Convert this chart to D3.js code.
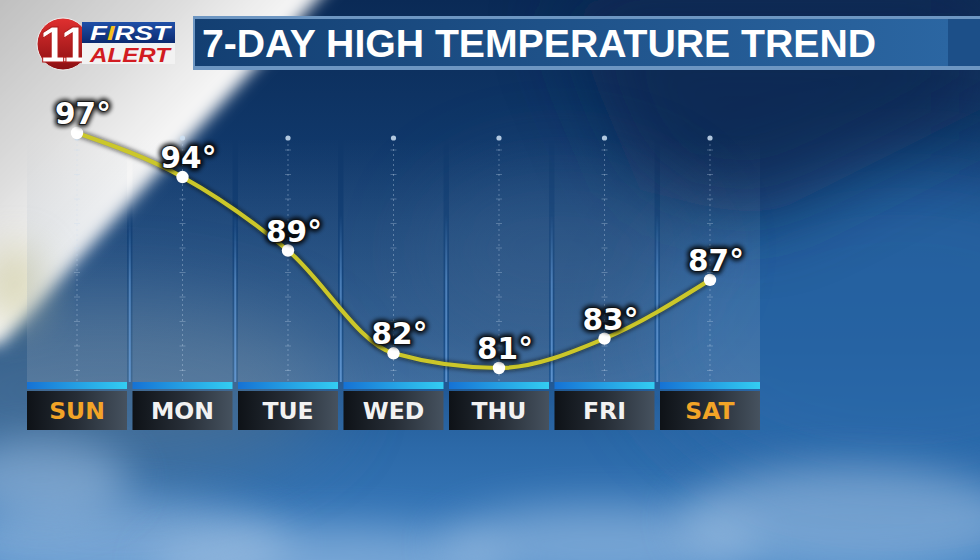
<!DOCTYPE html>
<html><head><meta charset="utf-8">
<script src="https://cdn.jsdelivr.net/npm/d3@7"></script>
<style>html,body{margin:0;padding:0;background:#0d3566;overflow:hidden}svg{display:block}</style>
</head><body>
<svg id="c" width="980" height="560"></svg>
<script>
const days = ["SUN","MON","TUE","WED","THU","FRI","SAT"];
const highs = [97,94,89,82,81,83,87];
const weekendDays = ["SUN","SAT"];
const titleText = "7-DAY HIGH TEMPERATURE TREND";
const logoNumber = "11";
const logoTop = "FIRST";
const logoBottom = "ALERT";

const W = 980, H = 560;
const svg = d3.select("#c");
const defs = svg.append("defs");

function lin(id, stops, x1, y1, x2, y2){
  const g = defs.append("linearGradient").attr("id", id)
    .attr("x1", x1).attr("y1", y1).attr("x2", x2).attr("y2", y2);
  stops.forEach(s => g.append("stop").attr("offset", s[0]).attr("stop-color", s[1]).attr("stop-opacity", s[2] == null ? 1 : s[2]));
}
function blur(id, sd){
  defs.append("filter").attr("id", id).attr("x", "-50%").attr("y", "-50%").attr("width", "200%").attr("height", "200%")
    .append("feGaussianBlur").attr("stdDeviation", sd);
}
lin("bg", [[0,"#0a2a56"],[0.3,"#113a6d"],[0.6,"#1a4d86"],[0.8,"#2c69a8"],[1,"#3c7fc2"]], "0","0","0","1");
lin("swoosh", [[0,"#b9b9b9"],[0.55,"#dcdcdc"],[0.85,"#f4f4f4"],[1,"#ffffff"]], "0","0","0.55","0.55");
lin("panel", [[0,"#8ea2b8",0.0],[0.35,"#8ea2b8",0.12],[1,"#8ea2b8",0.28]], "0","0","0","1");
lin("bar", [[0,"#1672d4"],[1,"#33cdf2"]], "0","0","1","0");
lin("lbl", [[0,"#0e1217"],[0.5,"#262d36"],[1,"#46525f"]], "0","0","1","0");
lin("titleIn", [[0,"#133f72"],[1,"#2b66a2"]], "0","0","1","0");
lin("divider", [[0,"#6aa0dc",0],[0.4,"#6aa0dc",0.6],[1,"#6aa0dc",0.8]], "0","0","0","1");
lin("logoRed", [[0,"#e03030"],[1,"#8a0f12"]], "0","0","0","1");
lin("logoBlue", [[0,"#2050a8"],[1,"#0c2a70"]], "0","0","0","1");
blur("b40", 40); blur("b20", 20); blur("b8", 8); blur("b3", 2.2);

// ---------- background ----------
const bg = svg.append("g");
bg.append("rect").attr("width", W).attr("height", H).attr("fill", "url(#bg)");
bg.append("ellipse").attr("cx", 900).attr("cy", 330).attr("rx", 260).attr("ry", 170).attr("fill", "#2a6aac").attr("opacity", 0.75).attr("filter", "url(#b40)");
bg.append("polygon").attr("points", "560,0 980,0 980,110 760,220 640,190").attr("fill", "#082650").attr("opacity", 0.7).attr("filter", "url(#b40)");
bg.append("ellipse").attr("cx", 560).attr("cy", 250).attr("rx", 140).attr("ry", 90).attr("fill", "#2b5788").attr("opacity", 0.45).attr("filter", "url(#b40)");
bg.append("ellipse").attr("cx", 110).attr("cy", 390).attr("rx", 220).attr("ry", 90).attr("fill", "#557592").attr("opacity", 0.6).attr("filter", "url(#b40)");
[[120,545,170,45],[330,565,180,40],[600,545,160,40],[850,520,170,55],[40,480,90,40]].forEach(c => {
  bg.append("ellipse").attr("cx", c[0]).attr("cy", c[1]).attr("rx", c[2]).attr("ry", c[3])
    .attr("fill", "#a6c4e4").attr("opacity", 0.55).attr("filter", "url(#b20)");
});
bg.append("polygon").attr("points", "-20,-20 335,-20 0,345 -20,345").attr("fill", "url(#swoosh)").attr("filter", "url(#b8)");
bg.append("ellipse").attr("cx", 15).attr("cy", 285).attr("rx", 30).attr("ry", 40).attr("fill", "#c8c490").attr("opacity", 0.6).attr("filter", "url(#b20)");

// ---------- scales ----------
const x = d3.scaleBand().domain(days).range([27, 760]).paddingInner(0.052).paddingOuter(0);
const y = d3.scaleLinear().domain([81, 97]).range([368, 133]);
const cx = d => x(d) + x.bandwidth() / 2;

const panelTop = 138, panelBottom = 382;

// panels
const cols = svg.append("g");
cols.selectAll("rect.panel").data(days).join("rect").attr("class", "panel")
  .attr("x", d => x(d)).attr("y", panelTop).attr("width", x.bandwidth()).attr("height", panelBottom - panelTop)
  .attr("fill", "url(#panel)");
// dividers
cols.selectAll("rect.div").data(days.slice(1)).join("rect").attr("class", "div")
  .attr("x", d => x(d) - x.step() * x.paddingInner() / 2 - 1).attr("y", 215).attr("width", 2).attr("height", panelBottom - 215)
  .attr("fill", "url(#divider)");
// center dashed lines
cols.selectAll("line.cl").data(days).join("line").attr("class", "cl")
  .attr("x1", cx).attr("x2", cx).attr("y1", panelTop + 6).attr("y2", panelBottom)
  .attr("stroke", "#c8dcf0").attr("stroke-opacity", 0.35).attr("stroke-width", 1).attr("stroke-dasharray", "2,3");
cols.selectAll("circle.top").data(days).join("circle").attr("class", "top")
  .attr("cx", cx).attr("cy", panelTop).attr("r", 2.6).attr("fill", "#cfe2f5").attr("opacity", 0.85);
const tickYs = d3.range(panelTop + 12, panelBottom - 5, 24.5);
days.forEach(d => {
  cols.selectAll(null).data(tickYs).join("line")
    .attr("x1", cx(d) - 3).attr("x2", cx(d) + 3).attr("y1", t => t).attr("y2", t => t)
    .attr("stroke", "#c8dcf0").attr("stroke-opacity", 0.3).attr("stroke-width", 1);
});

// blue bars
svg.append("g").selectAll("rect").data(days).join("rect")
  .attr("x", d => x(d)).attr("y", 382).attr("width", x.bandwidth()).attr("height", 7)
  .attr("fill", "url(#bar)");
// label boxes
svg.append("g").selectAll("rect").data(days).join("rect")
  .attr("x", d => x(d)).attr("y", 391).attr("width", x.bandwidth()).attr("height", 39)
  .attr("fill", "url(#lbl)");
svg.append("g").selectAll("text").data(days).join("text")
  .attr("x", cx).attr("y", 419).attr("text-anchor", "middle")
  .attr("font-family", "'DejaVu Sans', sans-serif").attr("font-weight", "bold").attr("font-size", 23.5)
  .attr("fill", d => weekendDays.includes(d) ? "#f2a427" : "#f2f2f2")
  .text(d => d);

// ---------- line ----------
const pts = days.map((d, i) => [cx(d), y(highs[i])]);
const line = d3.line().curve(d3.curveMonotoneX);
svg.append("path").attr("d", line(pts)).attr("fill", "none").attr("stroke", "#1a1a08").attr("stroke-opacity", 0.55)
  .attr("stroke-width", 7).attr("filter", "url(#b3)");
svg.append("path").attr("d", line(pts)).attr("fill", "none").attr("stroke", "#cbc72a").attr("stroke-width", 4.2)
  .attr("stroke-linecap", "round");
svg.append("g").selectAll("circle").data(pts).join("circle")
  .attr("cx", p => p[0]).attr("cy", p => p[1]).attr("r", 6.2).attr("fill", "#ffffff");

// temperature labels
const lab = svg.append("g").attr("font-family", "'DejaVu Sans', sans-serif").attr("font-weight", "bold").attr("font-size", 29.5).attr("text-anchor", "middle");
lab.selectAll("text.sh").data(days).join("text").attr("class", "sh")
  .attr("x", d => cx(d) + 6).attr("y", (d, i) => y(highs[i]) - 9)
  .attr("fill", "#000").attr("stroke", "#000").attr("stroke-width", 6).attr("stroke-linejoin", "round")
  .attr("opacity", 0.85).attr("filter", "url(#b3)")
  .text((d, i) => highs[i] + "°");
lab.selectAll("text.fg").data(days).join("text").attr("class", "fg")
  .attr("x", d => cx(d) + 6).attr("y", (d, i) => y(highs[i]) - 9)
  .attr("fill", "#ffffff").attr("stroke", "#111").attr("stroke-width", 1.5).attr("paint-order", "stroke")
  .text((d, i) => highs[i] + "°");

// ---------- title ----------
const tg = svg.append("g");
tg.append("rect").attr("x", 193).attr("y", 16).attr("width", 787).attr("height", 54).attr("fill", "#6d96c2");
tg.append("rect").attr("x", 195).attr("y", 19).attr("width", 753).attr("height", 47).attr("fill", "url(#titleIn)");
tg.append("rect").attr("x", 948).attr("y", 19).attr("width", 32).attr("height", 47).attr("fill", "#1c4f88");
tg.append("text").attr("x", 202).attr("y", 57)
  .attr("font-family", "'Liberation Sans', Arial, sans-serif").attr("font-weight", "bold").attr("font-size", 39.5)
  .attr("textLength", 674).attr("lengthAdjust", "spacingAndGlyphs")
  .attr("fill", "#ffffff").text(titleText);

// ---------- logo ----------
const lg = svg.append("g");
lg.append("circle").attr("cx", 63).attr("cy", 44).attr("r", 26).attr("fill", "url(#logoRed)").attr("stroke", "#f0f0f0").attr("stroke-width", 1);
lg.append("text").attr("x", 62).attr("y", 62).attr("text-anchor", "middle")
  .attr("font-family", "'Liberation Sans', Arial, sans-serif").attr("font-weight", "bold").attr("font-size", 50)
  .attr("letter-spacing", -4).attr("fill", "#ffffff").attr("stroke", "#b01818").attr("stroke-width", 1)
  .text(logoNumber);
lg.append("rect").attr("x", 82).attr("y", 43).attr("width", 93).attr("height", 21).attr("fill", "#f2f2f2");
lg.append("rect").attr("x", 82).attr("y", 22).attr("width", 93).attr("height", 21).attr("fill", "url(#logoBlue)");
const ft = lg.append("text").attr("x", 90).attr("y", 40)
  .attr("font-family", "'Liberation Sans', Arial, sans-serif").attr("font-weight", "bold").attr("font-style", "italic").attr("font-size", 21)
  .attr("textLength", 80).attr("lengthAdjust", "spacingAndGlyphs").attr("fill", "#ffffff");
logoTop.split("").forEach((ch, i) => ft.append("tspan").attr("fill", i === 1 ? "#f7c21c" : "#ffffff").text(ch));
lg.append("text").attr("x", 90).attr("y", 62)
  .attr("font-family", "'Liberation Sans', Arial, sans-serif").attr("font-weight", "bold").attr("font-style", "italic").attr("font-size", 21)
  .attr("textLength", 80).attr("lengthAdjust", "spacingAndGlyphs").attr("fill", "#d21c22").text(logoBottom);
</script>
</body></html>
